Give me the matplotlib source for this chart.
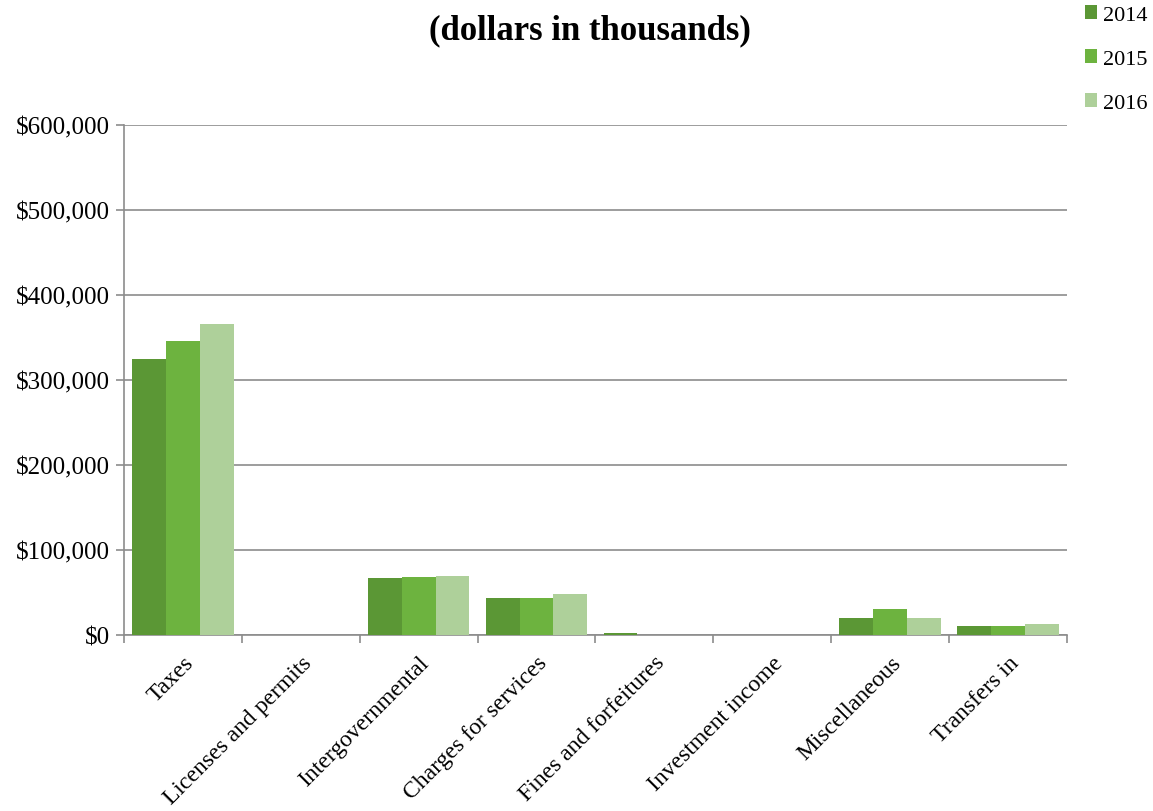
import matplotlib
matplotlib.use("Agg")
import matplotlib.pyplot as plt
import numpy as np
from matplotlib.ticker import FuncFormatter, MultipleLocator

categories = ["Taxes", "Licenses and permits", "Intergovernmental", "Charges for services",
              "Fines and forfeitures", "Investment income", "Miscellaneous", "Transfers in"]
years = ["2014", "2015", "2016"]
v2014 = [325000, 0, 67000, 43000, 2000, 0, 20000, 11000]
v2015 = [346000, 0, 68000, 43000, 0, 0, 31000, 11000]
v2016 = [366000, 0, 69500, 48000, 0, 0, 20000, 12500]
colors = ["#5b9735", "#6db33f", "#aed09a"]

plt.rcParams['font.family'] = ['Liberation Serif', 'DejaVu Serif']

fig = plt.figure(figsize=(11.53, 8.12), dpi=100)
ax = fig.add_axes([0.1075, 0.2167, 0.8179, 0.6281])

x = np.arange(len(categories))
bw = 0.287
for i, (vals, c, y) in enumerate(zip([v2014, v2015, v2016], colors, years)):
    ax.bar(x + (i - 1) * bw, vals, width=bw, color=c, label=y, zorder=3, linewidth=0)

ax.set_xlim(-0.5, len(categories) - 0.5)
ax.set_ylim(0, 600000)
ax.yaxis.set_major_locator(MultipleLocator(100000))
ax.yaxis.set_major_formatter(FuncFormatter(lambda v, p: f"${int(v):,}"))
ax.grid(axis='y', color='#8c8c8c', linewidth=1.2, zorder=0)
ax.set_axisbelow(True)

ax.set_xticks(x)
ax.set_xticklabels(categories, rotation=45, ha='right', rotation_mode='anchor', fontsize=17)
ax.tick_params(axis='x', length=0, pad=12)
ax.set_xticks(np.arange(len(categories) + 1) - 0.5, minor=True)
ax.tick_params(axis='x', which='minor', length=6, color='#8c8c8c', width=1.2)
ax.tick_params(axis='y', labelsize=18, length=6, color='#8c8c8c', width=1.2, pad=4)

for s in ['top', 'right']:
    ax.spines[s].set_visible(False)
for s in ['left', 'bottom']:
    ax.spines[s].set_color('#8c8c8c')
    ax.spines[s].set_linewidth(1.2)

fig.text(0.512, 0.962, "(dollars in thousands)", ha='center', va='center',
         fontsize=25, fontweight='bold')

leg = fig.legend(loc='upper right', bbox_to_anchor=(1.013, 1.017), frameon=False,
                 fontsize=16, handlelength=0.55, handleheight=0.55, handletextpad=0.3,
                 labelspacing=1.1)

fig.savefig("out.png", dpi=100)
